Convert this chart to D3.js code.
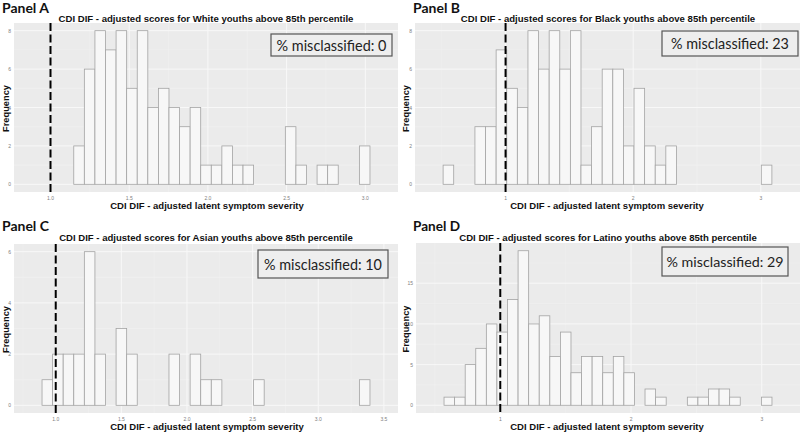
<!DOCTYPE html>
<html>
<head>
<meta charset="utf-8">
<script src="https://cdn.jsdelivr.net/npm/d3@7"></script>
<style>
  body { margin: 0; background: #fff; }
  svg { display: block; }
</style>
</head>
<body>
<div id="chart"></div>
<script>
// histogram counts, 33 bins per panel
var countsA = [0,0,0,0,2,6,8,7,8,5,8,4,5,4,3,4,1,1,2,1,1,0,0,0,3,1,0,1,1,0,0,2,0];
var countsB = [0,1,0,0,3,3,7,5,4,8,6,8,6,8,1,3,6,6,2,5,2,1,2,0,0,0,0,0,0,0,0,1,0];
var countsC = [0,1,2,2,2,6,2,0,3,2,0,0,0,2,0,2,1,1,0,0,0,1,0,0,0,0,0,0,0,0,0,1,0];
var countsD = [0,1,1,5,7,10,9,13,19,10,11,6,9,4,6,6,4,6,4,0,2,1,0,0,1,1,2,2,1,0,0,1,0];

var binStarts = [0.879, 0.4275, 0.815, 0.489];
var binWidths = [0.0672, 0.0831, 0.0806, 0.0809];
var cutoffs = [1.0, 1.0, 1.0, 1.0];

var panelLabels = ["Panel A", "Panel B", "Panel C", "Panel D"];
var groups = ["White", "Black", "Asian", "Latino"];
var misclassified = [0, 23, 10, 29];

var xTicksA = [1.0, 1.5, 2.0, 2.5, 3.0];
var xTicksB = [1, 2, 3];
var xTicksC = [1.0, 1.5, 2.0, 2.5, 3.0, 3.5];
var xTicksD = [1, 2, 3];
var xTickLabelsA = ["1.0", "1.5", "2.0", "2.5", "3.0"];
var xTickLabelsB = ["1", "2", "3"];
var xTickLabelsC = ["1.0", "1.5", "2.0", "2.5", "3.0", "3.5"];
var xTickLabelsD = ["1", "2", "3"];
var yTicksA = [0, 2, 4, 6, 8];
var yTicksB = [0, 2, 4, 6, 8];
var yTicksC = [0, 2, 4, 6];
var yTicksD = [0, 5, 10, 15];

var xTitle = "CDI DIF - adjusted latent symptom severity";

// layout of the four panels (pixels)
var layout = [
  {ox: 0,   oy: 0,   left: 14,  right: 398, top: 23,  bottom: 192, box: [271, 34, 121, 22], boxW: 110, titleW: 295},
  {ox: 400, oy: 0,   left: 415, right: 800, top: 23,  bottom: 192, box: [662, 31, 136, 25], boxW: 118, titleW: 295},
  {ox: 0,   oy: 216, left: 14,  right: 398, top: 244, bottom: 413, box: [258, 250, 130, 28], boxW: 118, titleW: 294},
  {ox: 400, oy: 216, left: 416, right: 800, top: 243, bottom: 413, box: [662, 247, 126, 29], boxW: 117, titleW: 298}
];

var allCounts = [countsA, countsB, countsC, countsD];
var allXTicks = [xTicksA, xTicksB, xTicksC, xTicksD];
var allXLabels = [xTickLabelsA, xTickLabelsB, xTickLabelsC, xTickLabelsD];
var allYTicks = [yTicksA, yTicksB, yTicksC, yTicksD];

var svg = d3.select("#chart")
  .append("svg")
  .attr("width", 800)
  .attr("height", 432);

// shrink/grow a text so it has the wanted width
function fit(sel, w) {
  var len = sel.node().getComputedTextLength();
  var fs = parseFloat(sel.style("font-size"));
  sel.style("font-size", (fs * w / len) + "px");
}

for (var p = 0; p < 4; p++) {
  var L = layout[p];
  var counts = allCounts[p];
  var bw = binWidths[p];
  var bins = counts.map(function(c, i) {
    return {x0: binStarts[p] + i * bw, x1: binStarts[p] + (i + 1) * bw, n: c};
  });
  var lo = bins[0].x0, hi = bins[bins.length - 1].x1, r = hi - lo;
  var ymax = d3.max(counts);

  var x = d3.scaleLinear().domain([lo - 0.05 * r, hi + 0.05 * r]).range([L.left, L.right]);
  var y = d3.scaleLinear().domain([-0.05 * ymax, ymax * 1.05]).range([L.bottom, L.top]);

  var g = svg.append("g").attr("class", "panel");

  g.append("rect")
    .attr("x", L.left).attr("y", L.top)
    .attr("width", L.right - L.left).attr("height", L.bottom - L.top)
    .style("fill", "#ebebeb");

  // minor grid
  var xt = allXTicks[p], step = xt[1] - xt[0];
  var xMinor = d3.range(xt[0] - step * 1.5, xt[xt.length - 1] + step, step)
    .filter(function(v) { return v > x.domain()[0] && v < x.domain()[1]; });
  var yt = allYTicks[p], ystep = yt[1] - yt[0];
  var yMinor = d3.range(yt[0] + ystep / 2, y.domain()[1], ystep);

  g.selectAll(".xminor").data(xMinor).enter().append("line")
    .attr("x1", function(d) { return x(d); }).attr("x2", function(d) { return x(d); })
    .attr("y1", L.top).attr("y2", L.bottom)
    .style("stroke", "#f3f3f3").style("stroke-width", 0.5);
  g.selectAll(".yminor").data(yMinor).enter().append("line")
    .attr("y1", function(d) { return y(d); }).attr("y2", function(d) { return y(d); })
    .attr("x1", L.left).attr("x2", L.right)
    .style("stroke", "#f3f3f3").style("stroke-width", 0.5);
  // major grid
  g.selectAll(".xmajor").data(xt).enter().append("line")
    .attr("x1", function(d) { return x(d); }).attr("x2", function(d) { return x(d); })
    .attr("y1", L.top).attr("y2", L.bottom)
    .style("stroke", "#f8f8f8").style("stroke-width", 1);
  g.selectAll(".ymajor").data(yt).enter().append("line")
    .attr("y1", function(d) { return y(d); }).attr("y2", function(d) { return y(d); })
    .attr("x1", L.left).attr("x2", L.right)
    .style("stroke", "#f8f8f8").style("stroke-width", 1);

  // bars
  g.selectAll(".bar").data(bins).enter().append("rect")
    .attr("x", function(d) { return x(d.x0); })
    .attr("y", function(d) { return y(d.n); })
    .attr("width", function(d) { return x(d.x1) - x(d.x0); })
    .attr("height", function(d) { return y(0) - y(d.n); })
    .style("fill", "#f7f7f7")
    .style("stroke", "#a3a3a3")
    .style("stroke-width", 0.8);

  // cutoff
  g.append("line")
    .attr("x1", x(cutoffs[p])).attr("x2", x(cutoffs[p]))
    .attr("y1", L.top).attr("y2", L.bottom)
    .style("stroke", "#000")
    .style("stroke-width", 2)
    .style("stroke-dasharray", "8,3.5");

  // tick labels
  g.selectAll(".xtl").data(xt).enter().append("text")
    .attr("x", function(d) { return x(d); })
    .attr("y", L.bottom + 7.5)
    .attr("text-anchor", "middle")
    .style("font-family", "Liberation Sans, Arial, sans-serif")
    .style("font-size", "5px")
    .style("fill", "#808080")
    .text(function(d, i) { return allXLabels[p][i]; });
  g.selectAll(".ytl").data(yt).enter().append("text")
    .attr("x", L.left - 3)
    .attr("y", function(d) { return y(d) + 2; })
    .attr("text-anchor", "end")
    .style("font-family", "Liberation Sans, Arial, sans-serif")
    .style("font-size", "5px")
    .style("fill", "#808080")
    .text(function(d) { return d; });

  // titles
  var t = g.append("text")
    .attr("x", L.ox + (p % 2 == 0 ? 206 : 208))
    .attr("y", L.oy + (p < 2 ? 21.5 : 25))
    .attr("text-anchor", "middle")
    .style("font-family", "Liberation Sans, Arial, sans-serif")
    .style("font-weight", "bold")
    .style("font-size", "9px")
    .style("fill", "#111")
    .text("CDI DIF - adjusted scores for " + groups[p] + " youths above 85th percentile");
  fit(t, L.titleW);

  var xl = g.append("text")
    .attr("x", L.ox + 207)
    .attr("y", L.oy + (p < 2 ? 208.5 : 429.5 - 216))
    .attr("text-anchor", "middle")
    .style("font-family", "Liberation Sans, Arial, sans-serif")
    .style("font-weight", "bold")
    .style("font-size", "10px")
    .style("fill", "#111")
    .text(xTitle);
  fit(xl, 194);

  var yl = g.append("text")
    .attr("transform", "translate(" + (L.ox + 8.5) + "," + ((L.top + L.bottom) / 2 + 1) + ") rotate(-90)")
    .attr("text-anchor", "middle")
    .style("font-family", "Liberation Sans, Arial, sans-serif")
    .style("font-weight", "bold")
    .style("font-size", "10px")
    .style("fill", "#111")
    .text("Frequency");
  fit(yl, 47);

  var pl = g.append("text")
    .attr("x", L.ox + (p % 2 == 0 ? 2 : 13))
    .attr("y", L.oy + (p < 2 ? 12.5 : 15))
    .style("font-family", "Lato, Open Sans, sans-serif")
    .style("font-weight", "bold")
    .style("font-size", "15px")
    .style("fill", "#111")
    .text(panelLabels[p]);
  fit(pl, 47);

  // misclassified box
  g.append("rect")
    .attr("x", L.box[0]).attr("y", L.box[1])
    .attr("width", L.box[2]).attr("height", L.box[3])
    .style("fill", "#eeeeee")
    .style("stroke", "#555")
    .style("stroke-width", 1.2);
  var bt = g.append("text")
    .attr("x", L.box[0] + L.box[2] / 2)
    .attr("y", L.box[1] + L.box[3] / 2 + 5.5)
    .attr("text-anchor", "middle")
    .style("font-family", "Lato, Open Sans, sans-serif")
    .style("font-size", "15px")
    .style("fill", "#222")
    .text("% misclassified: " + misclassified[p]);
  fit(bt, L.boxW);
}
</script>
</body>
</html>
